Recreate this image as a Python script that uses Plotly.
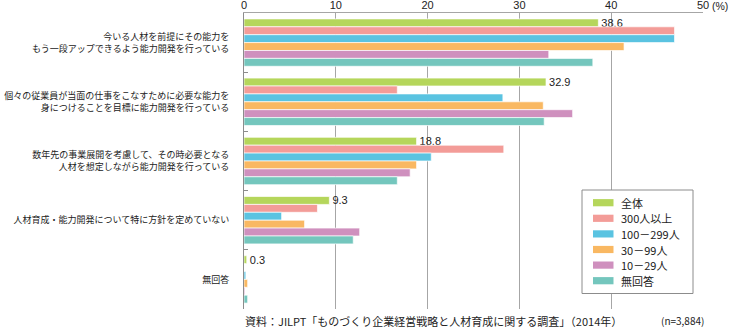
import plotly.graph_objects as go

# Survey answers (percent of respondents), grouped by company size
categories = [
    "今いる人材を前提にその能力を<br>もう一段アップできるよう能力開発を行っている",
    "個々の従業員が当面の仕事をこなすために必要な能力を<br>身につけることを目標に能力開発を行っている",
    "数年先の事業展開を考慮して、その時必要となる<br>人材を想定しながら能力開発を行っている",
    "人材育成・能力開発について特に方針を定めていない",
    "無回答",
]
series_names = ["全体", "300人以上", "100－299人", "30－99人", "10－29人", "無回答"]
total = [38.6, 32.9, 18.8, 9.3, 0.3]
size_300_plus = [46.9, 16.7, 28.3, 8.0, 0.0]
size_100_299 = [46.9, 28.2, 20.4, 4.1, 0.2]
size_30_99 = [41.4, 32.6, 18.8, 6.6, 0.4]
size_10_29 = [33.2, 35.8, 18.1, 12.6, 0.1]
size_no_answer = [38.0, 32.7, 16.7, 11.9, 0.4]
x_ticks = [0, 10, 20, 30, 40, 50]

series_values = [total, size_300_plus, size_100_299, size_30_99, size_10_29, size_no_answer]
colors = ["#b5d65b", "#f39c98", "#5ac3e1", "#f9b862", "#cf90be", "#74c6bd"]

FONT = "Noto Sans CJK JP, Noto Sans, sans-serif"
NUM_FONT = "Liberation Sans, Arial, sans-serif"
TEXT = "#222222"
GRID = "#a6a6a6"

W, H = 730, 329
ML, MR, MT, MB = 244, 27, 13, 20
PW, PH = W - ML - MR, H - MT - MB


def px_x(x):
    return (x - ML) / PW


def px_y(y):
    return (H - MB - y) / PH


fig = go.Figure()
for i, (name, vals, col) in enumerate(zip(series_names, series_values, colors)):
    kw = {}
    if i == 0:
        kw = dict(
            text=[f"{v:.1f}" for v in vals],
            textposition="outside",
            textfont=dict(size=11, color=TEXT, family=NUM_FONT),
            constraintext="none",
            cliponaxis=False,
        )
    fig.add_trace(go.Bar(
        y=categories, x=vals, name=name, orientation="h",
        marker=dict(color=col, line=dict(color="rgba(255,255,255,0.85)", width=0.8)),
        showlegend=False, hoverinfo="skip", **kw,
    ))

# Legend box drawn with shapes
shapes = [dict(type="rect", xref="paper", yref="paper",
               x0=px_x(582), x1=px_x(693), y0=px_y(293.5), y1=px_y(190),
               line=dict(color="#8c8c8c", width=1), fillcolor="white", layer="above")]
annotations = []
row0, pitch = 202.7, 15.6
for i, (name, col) in enumerate(zip(series_names, colors)):
    yc = row0 + i * pitch
    shapes.append(dict(type="rect", xref="paper", yref="paper",
                       x0=px_x(593), x1=px_x(613.5), y0=px_y(yc + 3.6), y1=px_y(yc - 3.6),
                       line=dict(width=0), fillcolor=col, layer="above"))
    annotations.append(dict(xref="paper", yref="paper", x=px_x(618.5), y=px_y(yc),
                            xanchor="left", yanchor="middle", text=name, showarrow=False,
                            font=dict(size=11, color=TEXT, family=FONT)))

# Unit label next to the last tick
annotations.append(dict(xref="x", yref="paper", x=50, y=px_y(6), xshift=7,
                        xanchor="left", yanchor="middle", text="(%)", showarrow=False,
                        font=dict(size=10.5, color=TEXT, family=NUM_FONT)))
# Source and sample size
annotations.append(dict(xref="paper", yref="paper", x=0, y=px_y(320.5), xshift=-1,
                        xanchor="left", yanchor="middle",
                        text="資料：JILPT「ものづくり企業経営戦略と人材育成に関する調査」（2014年）",
                        showarrow=False, font=dict(size=11, color=TEXT, family=FONT)))
annotations.append(dict(xref="paper", yref="paper", x=1, y=px_y(320.5), xshift=3,
                        xanchor="right", yanchor="middle", text="(n=3,884)",
                        showarrow=False, font=dict(size=10, color=TEXT, family=FONT)))

fig.update_layout(
    width=W, height=H,
    margin=dict(l=ML, r=MR, t=MT, b=MB, pad=0, autoexpand=False),
    paper_bgcolor="white", plot_bgcolor="white",
    barmode="group", bargap=0.2, bargroupgap=0,
    font=dict(family=FONT, color=TEXT),
    shapes=shapes, annotations=annotations,
    xaxis=dict(
        side="top", range=[0, 50], tickvals=x_ticks, automargin=False,
        showgrid=True, gridcolor=GRID, gridwidth=1,
        showline=True, linecolor=GRID, linewidth=1,
        ticks="", zeroline=False, ticklabelstandoff=-1,
        tickfont=dict(size=11, color=TEXT, family=NUM_FONT),
    ),
    yaxis=dict(
        autorange="reversed", type="category", automargin=False,
        showline=True, linecolor="#8c8c8c", linewidth=1,
        ticks="inside", ticklen=4, tickcolor="#8c8c8c", tickson="boundaries",
        showgrid=False, zeroline=False,
        ticklabelstandoff=12,
        tickfont=dict(size=9, color=TEXT, family=FONT),
    ),
)

fig.write_html("out.html")
